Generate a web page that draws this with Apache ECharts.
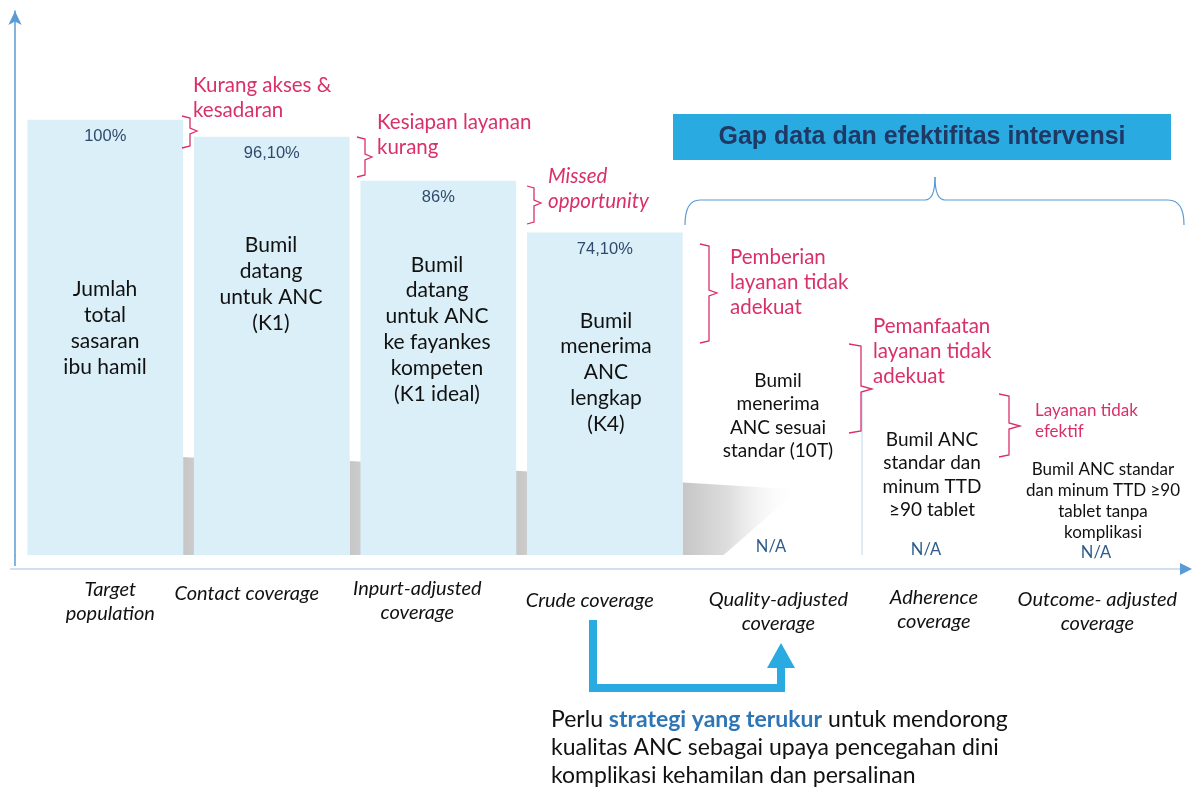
<!DOCTYPE html>
<html>
<head>
<meta charset="utf-8">
<script src="https://cdn.jsdelivr.net/npm/echarts@6/dist/echarts.min.js"></script>
<style>
  html, body { margin: 0; padding: 0; background: #fff; }
  #chart { width: 1194px; height: 787px; }
</style>
</head>
<body>
<div id="chart"></div>
<script>
// data — coverage cascade ANC
const categories = ['Target\npopulation', 'Contact coverage', 'Inpurt-adjusted\ncoverage', 'Crude coverage',
  'Quality-adjusted\ncoverage', 'Adherence\ncoverage', 'Outcome- adjusted\ncoverage'];
const coverage = [100, 96.1, 86, 74.1, null, null, null];
const coverageLabels = ['100%', '96,10%', '86%', '74,10%', 'N/A', 'N/A', 'N/A'];
const stepTexts = [
  'Jumlah\ntotal\nsasaran\nibu hamil',
  'Bumil\ndatang\nuntuk ANC\n(K1)',
  'Bumil\ndatang\nuntuk ANC\nke fayankes\nkompeten\n(K1 ideal)',
  'Bumil\nmenerima\nANC\nlengkap\n(K4)',
  'Bumil\nmenerima\nANC sesuai\nstandar (10T)',
  'Bumil ANC\nstandar dan\nminum TTD\n≥90 tablet',
  'Bumil ANC standar\ndan minum TTD ≥90\ntablet tanpa\nkomplikasi'
];
const gapNotes = [
  'Kurang akses &\nkesadaran',
  'Kesiapan layanan\nkurang',
  'Missed\nopportunity',
  'Pemberian\nlayanan tidak\nadekuat',
  'Pemanfaatan\nlayanan tidak\nadekuat',
  'Layanan tidak\nefektif'
];

// layout (pixel tweaks, not data)
const labelShift = [5, -25, -21, -15, 7, -4, -7];
const labelDrop = [1, 5, 0, 12, 11, 9, 11];
const PINK = '#d9306b';
const SANS = 'Lato';

const chart = echarts.init(document.getElementById('chart'), null, { renderer: 'canvas' });

const xData = categories.map((c, i) => ({
  value: c,
  textStyle: {
    padding: [labelDrop[i], labelShift[i] < 0 ? -2 * labelShift[i] : 0, 0, labelShift[i] > 0 ? 2 * labelShift[i] : 0]
  }
}));

const shadowData = coverage.map((v, i) => [i, v]).filter(d => d[1] != null);

function brace(x0, y0, y1, xv, xt, yt) {
  return {
    type: 'polyline', silent: true, z: 10,
    shape: { points: [[x0, y0], [xv, y0 + 2], [xv, yt - 3], [xt, yt], [xv, yt + 3], [xv, y1 - 2], [x0, y1]] },
    style: { stroke: PINK, lineWidth: 1.3, fill: null }
  };
}
function note(text, x, y, opt) {
  return {
    type: 'text', silent: true, z: 10, x: x, y: y,
    style: Object.assign({ text: text, fill: PINK, font: '20.5px ' + SANS, lineHeight: 25, verticalAlign: 'top' }, opt || {})
  };
}
function stepText(i, x, yTop, size, lh) {
  return {
    type: 'text', silent: true, z: 10, x: x, y: yTop,
    style: { text: stepTexts[i], fill: '#111', font: size + 'px ' + SANS, lineHeight: lh, align: 'center', verticalAlign: 'top' }
  };
}
function naText(i, x, y) {
  return {
    type: 'text', silent: true, z: 10, x: x, y: y,
    style: { text: coverageLabels[i], fill: '#2e5c8a', font: '16.5px ' + SANS, align: 'center', verticalAlign: 'middle' }
  };
}
function curve(x1, y1, cx, cy, x2, y2) {
  return {
    type: 'bezierCurve', silent: true, z: 10,
    shape: { x1: x1, y1: y1, cpx1: cx, cpy1: cy, x2: x2, y2: y2 },
    style: { stroke: '#5b9bd5', lineWidth: 1.2, fill: null }
  };
}
function seg(x1, y1, x2, y2, color, w) {
  return { type: 'line', silent: true, z: 10, shape: { x1: x1, y1: y1, x2: x2, y2: y2 }, style: { stroke: color, lineWidth: w } };
}

const shadowFill = {
  type: 'linear', x: 0, y: 0, x2: 1, y2: 0,
  colorStops: [{ offset: 0, color: '#c6c6c6' }, { offset: 0.4, color: '#dedede' }, { offset: 1, color: 'rgba(255,255,255,0)' }]
};

const option = {
  backgroundColor: '#fff',
  animation: false,
  grid: { left: 22, right: 4, top: 11, bottom: 232 },
  xAxis: {
    type: 'category',
    data: xData,
    offset: 14,
    axisLine: { show: true, onZero: false, lineStyle: { color: '#cfe0f0', width: 2 } },
    axisTick: { show: false },
    axisLabel: { interval: 0, margin: 8, fontFamily: SANS, fontStyle: 'italic', fontSize: 20, lineHeight: 24, color: '#111' }
  },
  yAxis: {
    type: 'value', min: 0, max: 125, offset: 7,
    axisLine: { show: true, onZero: false, symbol: ['none', 'arrow'], symbolSize: [10, 14], lineStyle: { color: '#5b9bd5', width: 1.5 } },
    axisTick: { show: false }, axisLabel: { show: false }, splitLine: { show: false }
  },
  series: [
    {
      type: 'custom', z: 1, silent: true,
      data: shadowData,
      renderItem: function (params, api) {
        const i = api.value(0), v = api.value(1);
        const half = api.size([1, 0])[0] * 0.935 / 2;
        const base = api.coord([i, 0]);
        const top = api.coord([i, v * 0.225]);
        const xr = base[0] + half;
        return {
          type: 'polygon',
          shape: { points: [[xr, top[1]], [xr + 116, top[1] + 7], [xr + 41, base[1]], [xr, base[1]]] },
          style: { fill: shadowFill }
        };
      }
    },
    {
      type: 'bar', z: 3,
      data: coverage,
      barCategoryGap: '6.5%',
      itemStyle: { color: '#daeff7' },
      label: {
        show: true, position: 'insideTop', distance: 8,
        fontFamily: 'Liberation Sans', fontSize: 16.5, color: '#2f4a6d',
        formatter: p => coverageLabels[p.dataIndex]
      }
    }
  ],
  graphic: [
    // in-bar and step descriptions
    stepText(0, 105, 276, 21, 26),
    stepText(1, 271, 232, 21, 26),
    stepText(2, 437, 252, 21, 25.8),
    stepText(3, 606, 308, 21, 25.8),
    stepText(4, 778, 369, 19, 23.5),
    stepText(5, 932, 428, 19, 23.5),
    stepText(6, 1103, 459, 17, 21),
    naText(4, 771, 547), naText(5, 926, 550), naText(6, 1096, 553),
    seg(862, 392, 862, 555, '#d5e6f2', 1.5),
    // gap braces + notes
    brace(182, 116, 148, 190, 197, 131),
    note(gapNotes[0], 193, 73),
    brace(357, 137, 177, 365, 372, 157),
    note(gapNotes[1], 377, 110),
    brace(527, 186, 224, 534, 541, 203),
    note(gapNotes[2], 548, 164, { font: 'italic 20.5px ' + SANS }),
    brace(700, 244, 343, 709, 717, 293),
    note(gapNotes[3], 730, 245),
    brace(849, 344, 433, 861, 872, 389),
    note(gapNotes[4], 873, 314),
    brace(999, 394, 457, 1009, 1020, 426),
    note(gapNotes[5], 1035, 400, { font: '17px ' + SANS, lineHeight: 21 }),
    // gap box
    { type: 'rect', silent: true, z: 10, shape: { x: 673, y: 114, width: 498, height: 46 }, style: { fill: '#29abe2' } },
    {
      type: 'text', silent: true, z: 11, x: 922, y: 137,
      style: { text: 'Gap data dan efektifitas intervensi', fill: '#1f3864', font: 'bold 25px "Liberation Sans"', align: 'center', verticalAlign: 'middle' }
    },
    curve(685, 225, 685, 200, 700, 200),
    seg(700, 200, 925, 200, '#5b9bd5', 1.2),
    curve(925, 200, 935, 200, 935, 177),
    curve(935, 177, 935, 200, 945, 200),
    seg(945, 200, 1168, 200, '#5b9bd5', 1.2),
    curve(1168, 200, 1184, 200, 1184, 225),
    // axis extensions + x arrow head
    seg(15, 555, 15, 566, '#5b9bd5', 1.5),
    seg(10, 569, 22, 569, '#cfe0f0', 2),
    { type: 'polygon', silent: true, z: 10, shape: { points: [[1180, 563], [1192, 569], [1180, 575]] }, style: { fill: '#5b9bd5' } },
    // call-out arrow
    {
      type: 'polyline', silent: true, z: 10,
      shape: { points: [[593, 620], [593, 688], [781, 688], [781, 666]] },
      style: { stroke: '#29abe2', lineWidth: 8, fill: null, lineJoin: 'miter' }
    },
    { type: 'polygon', silent: true, z: 10, shape: { points: [[767, 668], [795, 668], [781, 643]] }, style: { fill: '#29abe2' } },
    {
      type: 'text', silent: true, z: 10, x: 551, y: 706,
      style: {
        text: 'Perlu {b|strategi yang terukur} untuk mendorong\nkualitas ANC sebagai upaya pencegahan dini\nkomplikasi kehamilan dan persalinan',
        font: '23px ' + SANS, fill: '#111', lineHeight: 28, verticalAlign: 'top',
        rich: { b: { font: 'bold 23px ' + SANS, fill: '#2e75b6', lineHeight: 28 } }
      }
    }
  ]
};

chart.setOption(option);
</script>
</body>
</html>
